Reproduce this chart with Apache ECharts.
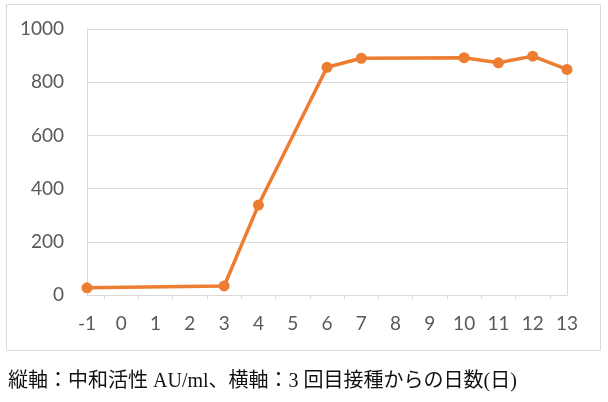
<!DOCTYPE html>
<html><head><meta charset="utf-8">
<script src="https://cdn.jsdelivr.net/npm/echarts@6/dist/echarts.min.js"></script>
<style>html,body{margin:0;padding:0;background:#fff}#c{width:608px;height:402px}</style>
</head><body><div id="c"></div>
<script>
const days = [-1, 3, 4, 6, 7, 10, 11, 12, 13];
const activity = [27, 34, 338, 856, 890, 892, 873, 898, 848];
const xTickMarks = [-0.5, 0.5, 1.5, 2.5, 3.5, 4.5, 5.5, 6.5, 7.5, 8.5, 9.5, 10.5, 11.5, 12.5];
const caption = "縦軸：中和活性 AU/ml、横軸：3 回目接種からの日数(日)";
const lineColor = '#ED7D31';
const gridColor = '#d9d9d9';
const labelFont = "Lato, 'Open Sans', sans-serif";

const chart = echarts.init(document.getElementById('c'), null, {renderer: 'canvas'});
chart.setOption({
  animation: false,
  grid: {left: 87, right: 41, top: 29, bottom: 107},
  xAxis: {
    type: 'value', min: -1, max: 13, interval: 1,
    axisLine: {show: true, onZero: false, lineStyle: {color: gridColor, width: 1}},
    axisTick: {show: true, customValues: xTickMarks, length: 4, lineStyle: {color: gridColor, width: 1}},
    splitLine: {show: false},
    axisLabel: {color: '#595959', fontSize: 19, fontFamily: labelFont, margin: 19}
  },
  yAxis: [{
    type: 'value', min: 0, max: 1000, interval: 200,
    axisLine: {show: true, onZero: false, lineStyle: {color: gridColor, width: 1}},
    axisTick: {show: false},
    splitLine: {show: true, lineStyle: {color: gridColor, width: 1}},
    axisLabel: {color: '#595959', fontSize: 19, fontFamily: labelFont, margin: 23,
      formatter: v => String(v)}
  }, {
    type: 'value', min: 0, max: 1000, interval: 200, position: 'right',
    axisLine: {show: true, onZero: false, lineStyle: {color: gridColor, width: 1}},
    axisTick: {show: false}, axisLabel: {show: false}, splitLine: {show: false}
  }],
  series: [{
    type: 'line',
    data: days.map((d, i) => [d, activity[i]]),
    lineStyle: {color: lineColor, width: 3.5},
    itemStyle: {color: lineColor},
    symbol: 'circle', symbolSize: 11,
    z: 5
  }],
  graphic: [
    {type: 'rect', shape: {x: 6.5, y: 4.5, width: 594, height: 346},
     style: {fill: 'none', stroke: gridColor, lineWidth: 1}, z: -1},
    {type: 'text', left: 8, top: 372,
     style: {text: caption, fill: '#111', fontSize: 20,
       fontFamily: "'Liberation Serif', 'DejaVu Serif', 'Noto Sans CJK JP', serif"}}
  ]
});
</script></body></html>
